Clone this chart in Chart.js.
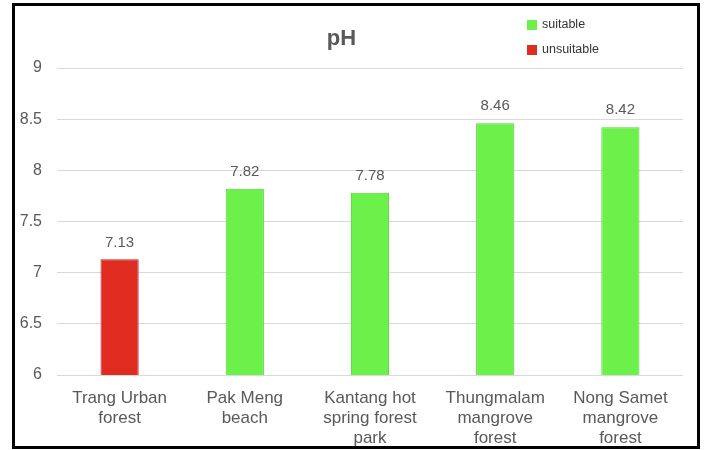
<!DOCTYPE html>
<html>
<head>
<meta charset="utf-8">
<script src="https://cdn.jsdelivr.net/npm/chart.js@4"></script>
<style>
    html, body { margin: 0; padding: 0; background: #fff; }
    #wrap { position: relative; width: 705px; height: 450px; }
    #frame {
        position: absolute; left: 12px; top: 3px; width: 682px; height: 440px;
        border: 3px solid #000; pointer-events: none;
    }
</style>
</head>
<body>
<div id="wrap">
    <canvas id="phChart" width="705" height="450"></canvas>
    <div id="frame"></div>
</div>
<script>
const categories = [
    ['Trang Urban', 'forest'],
    ['Pak Meng', 'beach'],
    ['Kantang hot', 'spring forest', 'park'],
    ['Thungmalam', 'mangrove', 'forest'],
    ['Nong Samet', 'mangrove', 'forest']
];
const phValues = [7.13, 7.82, 7.78, 8.46, 8.42];
const suitable = [false, true, true, true, true];
const legendLabels = ['suitable', 'unsuitable'];
const legendColors = ['#6cf04a', '#e02b20'];
const yTicks = [6, 6.5, 7, 7.5, 8, 8.5, 9];

const GREEN_BORDER = '#58d23a';
const RED_BORDER = '#b8231a';
const FONT = '"Liberation Sans", Arial, sans-serif';

// value labels above each bar
const barLabels = {
    id: 'barLabels',
    afterDatasetsDraw(chart) {
        const ctx = chart.ctx;
        const meta = chart.getDatasetMeta(0);
        ctx.save();
        ctx.font = '15px ' + FONT;
        ctx.fillStyle = '#595959';
        ctx.textAlign = 'center';
        ctx.textBaseline = 'middle';
        meta.data.forEach((bar, i) => {
            ctx.fillText(phValues[i].toFixed(2), bar.x, bar.y - 17);
        });
        ctx.restore();
    }
};

// stacked legend in the top right corner
const sideLegend = {
    id: 'sideLegend',
    afterDraw(chart) {
        const ctx = chart.ctx;
        ctx.save();
        ctx.font = '12.5px ' + FONT;
        ctx.textBaseline = 'middle';
        legendLabels.forEach((lab, i) => {
            const y = 25 + i * 25;
            ctx.fillStyle = legendColors[i];
            ctx.fillRect(527, y - 5, 10, 10);
            ctx.fillStyle = '#333';
            ctx.fillText(lab, 542, y);
        });
        ctx.restore();
    }
};

new Chart(document.getElementById('phChart').getContext('2d'), {
    type: 'bar',
    data: {
        labels: categories,
        datasets: [{
            label: 'pH',
            data: phValues,
            backgroundColor: suitable.map(s => s ? legendColors[0] : legendColors[1]),
            borderColor: suitable.map(s => s ? GREEN_BORDER : RED_BORDER),
            borderWidth: 1,
            categoryPercentage: 1,
            barPercentage: 0.305
        }]
    },
    options: {
        responsive: false,
        animation: false,
        layout: { padding: { left: 0, right: 22, top: 0, bottom: 0 } },
        plugins: {
            legend: { display: false },
            tooltip: { enabled: false },
            title: {
                display: true,
                text: 'pH',
                color: '#595959',
                font: { size: 22, weight: 'bold', family: FONT, lineHeight: 1.2 },
                padding: { top: 26, bottom: 15.6 }
            }
        },
        scales: {
            y: {
                min: 6,
                max: 9,
                afterBuildTicks(scale) {
                    scale.ticks = yTicks.map(v => ({ value: v }));
                },
                afterFit(scale) { scale.width = 57; },
                border: { display: false },
                grid: { color: '#d9d9d9', drawTicks: false },
                ticks: {
                    color: '#595959',
                    padding: 15,
                    callback: v => String(v),
                    font: { size: 16, family: FONT }
                }
            },
            x: {
                afterFit(scale) { scale.height = 75; },
                border: { display: false },
                grid: { display: false, drawTicks: false },
                ticks: {
                    color: '#595959',
                    padding: 14,
                    maxRotation: 0,
                    autoSkip: false,
                    font: { size: 17, lineHeight: 1.15, family: FONT }
                }
            }
        }
    },
    plugins: [barLabels, sideLegend]
});
</script>
</body>
</html>
